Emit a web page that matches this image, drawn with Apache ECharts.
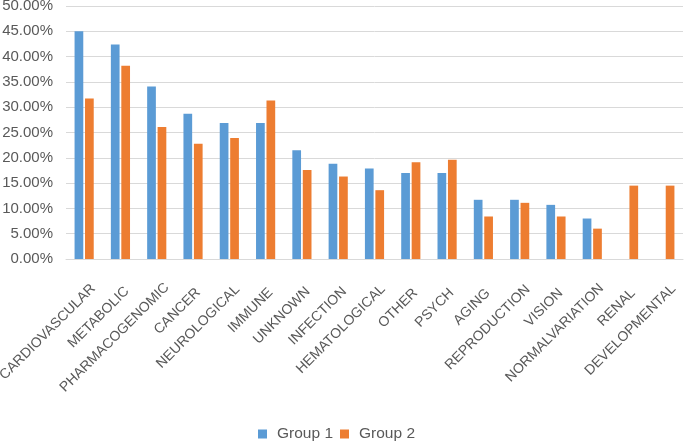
<!DOCTYPE html>
<html><head><meta charset="utf-8">
<script src="https://cdn.jsdelivr.net/npm/echarts@6/dist/echarts.min.js"></script>
<style>html,body{margin:0;padding:0;background:#fff}#c{width:685px;height:444px}</style>
</head><body><div id="c"></div>
<script>
var categories = ["CARDIOVASCULAR","METABOLIC","PHARMACOGENOMIC","CANCER","NEUROLOGICAL","IMMUNE","UNKNOWN","INFECTION","HEMATOLOGICAL","OTHER","PSYCH","AGING","REPRODUCTION","VISION","NORMALVARIATION","RENAL","DEVELOPMENTAL"];
var group1 = [45.0, 42.4, 34.1, 28.7, 26.9, 26.9, 21.5, 18.8, 17.9, 17.0, 17.0, 11.7, 11.7, 10.7, 8.0, null, null];
var group2 = [31.7, 38.2, 26.1, 22.8, 23.9, 31.3, 17.6, 16.3, 13.6, 19.1, 19.6, 8.4, 11.1, 8.4, 6.0, 14.5, 14.5];
var seriesNames = ["Group 1", "Group 2"];

var FONT = '"Liberation Sans"';
var LABEL_SIZE = 14;
var ctx = document.createElement('canvas').getContext('2d');
ctx.font = LABEL_SIZE + 'px ' + FONT;
// Excel-like placement: rotated label shifted right in proportion to its length
var categoryData = categories.map(function (s) {
  var L = ctx.measureText(s).width;
  var dx = 0.11 * L + 4;
  var a = dx * 0.7071, p = dx * 0.7071;
  return {value: s, textStyle: {padding: [2 * p, -a, 0, 0]}};
});

var chart = echarts.init(document.getElementById('c'));
chart.setOption({
  animation: false,
  textStyle: {fontFamily: FONT},
  legend: {
    top: 421, left: 253, itemWidth: 9, itemHeight: 9, itemGap: 7,
    icon: 'rect',
    textStyle: {color: '#595959', fontSize: 15.5, padding: [0, 0, 0, 5]}
  },
  grid: {left: 66, right: 2, top: 6, bottom: 185, outerBoundsMode: 'none', containLabel: false},
  xAxis: {
    type: 'category', data: categoryData,
    axisLine: {lineStyle: {color: '#d9d9d9'}},
    axisTick: {show: false},
    axisLabel: {rotate: 45, interval: 0, margin: 36.5, color: '#595959', fontSize: LABEL_SIZE}
  },
  yAxis: {
    type: 'value', min: 0, max: 50, interval: 5,
    axisLine: {show: false}, axisTick: {show: false},
    splitLine: {lineStyle: {color: '#d9d9d9'}},
    axisLabel: {color: '#595959', fontSize: 15, margin: 13, formatter: function(v){return v.toFixed(2)+'%';}}
  },
  series: [
    {name: seriesNames[0], type: 'bar', data: group1, barWidth: '24%', barGap: '20%', itemStyle: {color: '#5B9BD5'}},
    {name: seriesNames[1], type: 'bar', data: group2, barWidth: '24%', barGap: '20%', itemStyle: {color: '#ED7D31'}}
  ]
});
</script></body></html>
